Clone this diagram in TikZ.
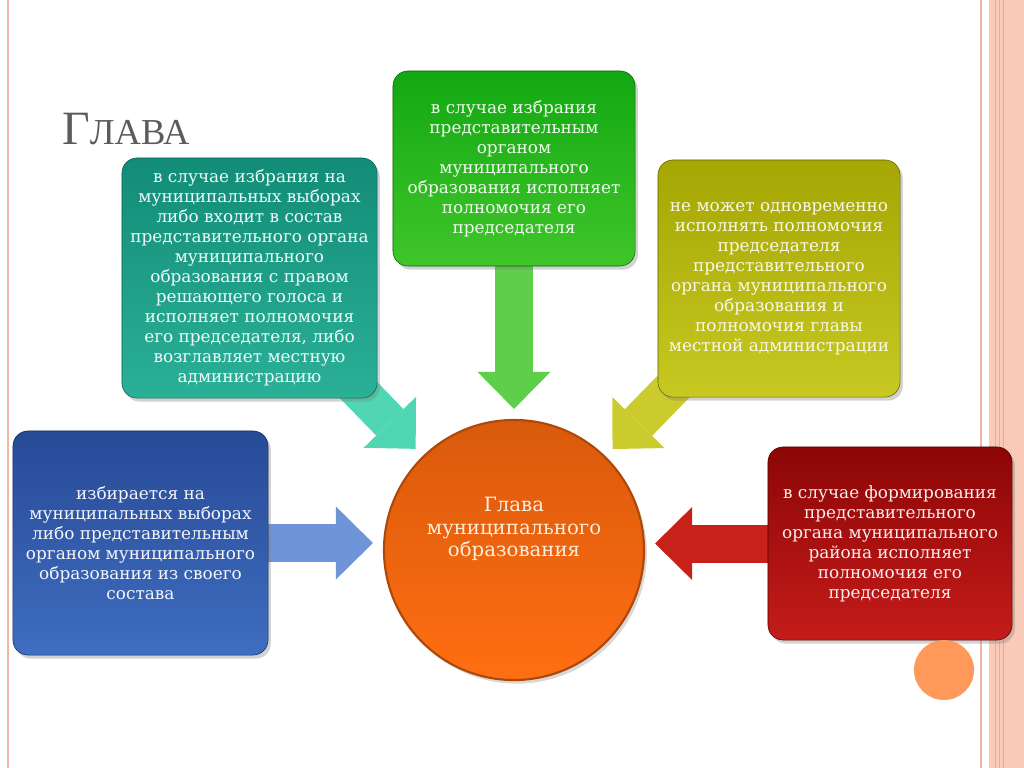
\documentclass[tikz,border=0pt]{standalone}
\usepackage{fontspec}
\setmainfont{DejaVu Serif}
\newfontfamily\titelfont{Liberation Serif}
\usetikzlibrary{arrows.meta,shadows}

\definecolor{rahmen}{HTML}{F2B6A4}
\definecolor{streifen}{HTML}{F9CAB7}
\definecolor{streifenlinie}{HTML}{EDA890}
\definecolor{titelgrau}{HTML}{5C5C5C}
\definecolor{tuerkisA}{HTML}{128C77}
\definecolor{tuerkisB}{HTML}{2BB098}
\definecolor{tuerkisP}{HTML}{50D6B2}
\definecolor{gruenA}{HTML}{12A812}
\definecolor{gruenB}{HTML}{40C62A}
\definecolor{gelbA}{HTML}{A6A604}
\definecolor{gelbB}{HTML}{C8C822}
\definecolor{blauA}{HTML}{274A96}
\definecolor{blauB}{HTML}{3F6DC0}
\definecolor{blauP}{HTML}{6F94D8}
\definecolor{rotA}{HTML}{8C0606}
\definecolor{rotB}{HTML}{C41C1A}
\definecolor{orangeA}{HTML}{D95A0C}
\definecolor{orangeB}{HTML}{FF6E12}

\pgfdeclarelayer{pfeile}
\pgfsetlayers{pfeile,main}

\tikzset{
	kasten/.style={rounded corners=0.375cm, align=center, inner sep=2pt,
		font=\fontsize{12}{14.2}\selectfont,
		drop shadow={opacity=0.35, shadow xshift=0.07cm, shadow yshift=-0.09cm}},
	pfeil/.style={line width=0.95cm,
		-{Triangle[width=1.825cm,length=0.925cm,line width=0pt]}, shorten >=0.25cm}
}

\begin{document}
\begin{tikzpicture}[x=0.025cm,y=-0.025cm]
	\useasboundingbox (0,0) rectangle (1024,768);
	\begin{pgfonlayer}{pfeile}
		\fill[white] (0,0) rectangle (1024,768);
	\end{pgfonlayer}
	%\draw[help lines] (0,0) grid[step=100] (1024,768);

	\draw[rahmen, line width=1.6pt] (8,0) -- (8,768);
	\draw[rahmen, line width=1.4pt] (981,0) -- (981,768);
	\fill[streifen] (989,0) rectangle (1024,768);
	\draw[streifenlinie, line width=0.7pt] (995,0) -- (995,768) (999,0) -- (999,768) (1003,0) -- (1003,768);

	\node[anchor=base west, text=titelgrau, inner sep=0pt] (T) at (62,145)
		{\titelfont\fontsize{34}{34}\selectfont Г\fontsize{26}{26}\selectfont ЛАВА};

	\node[circle, minimum size=6.5cm, inner sep=0pt, top color=orangeA, bottom color=orangeB,
		draw=orangeA!80!black, line width=1.5pt,
		text=orange!15!white, align=center, font=\fontsize{14}{15.8}\selectfont,
		drop shadow={opacity=0.3, shadow xshift=0.07cm, shadow yshift=-0.09cm}] (O) at (514,550)
		{Глава\\муниципального\\образования\\[0.6cm]};

	\node[kasten, minimum width=6.375cm, minimum height=6cm, top color=tuerkisA,
		bottom color=tuerkisB, draw=tuerkisA!70!black, text=tuerkisB!8!white] (A) at (249.5,278)
		{в случае избрания на\\муниципальных выборах\\либо входит в состав\\представительного органа\\
		муниципального\\образования с правом\\решающего голоса и\\исполняет полномочия\\
		его председателя, либо\\возглавляет местную\\администрацию};

	\node[kasten, minimum width=6.05cm, minimum height=4.875cm, top color=gruenA,
		bottom color=gruenB, draw=gruenA!60!black, text=gruenB!8!white] (B) at (514,168.5)
		{в случае избрания\\представительным\\органом\\муниципального\\образования исполняет\\
		полномочия его\\председателя};

	\node[kasten, minimum width=6.05cm, minimum height=5.925cm, top color=gelbA,
		bottom color=gelbB, draw=gelbA!60!black, text=gelbB!12!white] (C) at (779,278.5)
		{не может одновременно\\исполнять полномочия\\председателя\\представительного\\
		органа муниципального\\образования и\\полномочия главы\\местной администрации};

	\node[kasten, minimum width=6.375cm, minimum height=5.6cm, top color=blauA,
		bottom color=blauB, draw=blauA!60!black, text=blauB!6!white] (D) at (140.5,543)
		{избирается на\\муниципальных выборах\\либо представительным\\органом муниципального\\
		образования из своего\\состава};

	\node[kasten, minimum width=6.1cm, minimum height=4.825cm, top color=rotA,
		bottom color=rotB, draw=rotA!60!black, text=rotB!8!white] (E) at (890,543.5)
		{в случае формирования\\представительного\\органа муниципального\\района исполняет\\
		полномочия его\\председателя};

	\node[circle, minimum size=1.5cm, inner sep=0pt, fill=orangeB!70!white] (P) at (944,670) {};

	\begin{pgfonlayer}{pfeile}
		\draw[pfeil, tuerkisP] (A.center) -- (O);
		\draw[pfeil, gruenB!85!white] (B.center) -- (O);
		\draw[pfeil, gelbB!95!white] (C.center) -- (O);
		\draw[pfeil, blauP] (D.center) -- (D.center -| O.west);
		\draw[pfeil, rotB!95!orange] (E.center) -- (E.center -| O.east);
	\end{pgfonlayer}
\end{tikzpicture}
\end{document}
